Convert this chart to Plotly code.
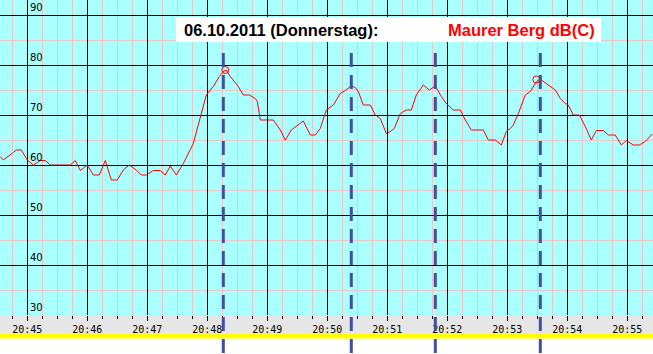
import plotly.graph_objects as go

DATE = "2011-10-06 "

times = ["20:44:33", "20:44:36", "20:44:46", "20:44:49", "20:44:54", "20:45:00", "20:45:06",
         "20:45:13", "20:45:18", "20:45:23", "20:45:43", "20:45:48", "20:45:53", "20:45:58",
         "20:46:00", "20:46:06", "20:46:12", "20:46:18", "20:46:24", "20:46:30", "20:46:36",
         "20:46:42", "20:46:49", "20:46:54", "20:46:59", "20:47:06", "20:47:13", "20:47:18",
         "20:47:23", "20:47:29", "20:47:36", "20:47:46", "20:47:53", "20:47:59", "20:48:06",
         "20:48:12", "20:48:16", "20:48:19", "20:48:23", "20:48:28", "20:48:31", "20:48:36",
         "20:48:42", "20:48:48", "20:48:50", "20:48:53", "20:49:06", "20:49:13", "20:49:18",
         "20:49:24", "20:49:29", "20:49:36", "20:49:43", "20:49:48", "20:49:53", "20:49:59",
         "20:50:06", "20:50:13", "20:50:18", "20:50:24", "20:50:28", "20:50:31", "20:50:36",
         "20:50:43", "20:50:48", "20:50:53", "20:50:59", "20:51:03", "20:51:07", "20:51:13",
         "20:51:19", "20:51:24", "20:51:29", "20:51:36", "20:51:42", "20:51:48", "20:51:54",
         "20:51:59", "20:52:06", "20:52:13", "20:52:18", "20:52:24", "20:52:36", "20:52:41",
         "20:52:48", "20:52:54", "20:52:59", "20:53:03", "20:53:06", "20:53:11", "20:53:18",
         "20:53:23", "20:53:28", "20:53:31", "20:53:34", "20:53:39", "20:53:48", "20:53:53",
         "20:53:58", "20:54:01", "20:54:06", "20:54:12", "20:54:18", "20:54:24", "20:54:29",
         "20:54:36", "20:54:41", "20:54:48", "20:54:54", "20:54:59", "20:55:06", "20:55:12",
         "20:55:18", "20:55:25"]

levels = [61.7, 61.0, 62.5, 63.0, 63.0, 61.0, 60.0,
          60.9, 60.9, 60.0, 60.0, 60.9, 58.9, 59.8,
          60.0, 58.0, 58.0, 60.9, 57.0, 57.0, 59.0,
          60.0, 59.0, 58.0, 58.0, 58.9, 58.9, 58.0,
          59.8, 58.0, 60.3, 64.3, 69.7, 74.0, 75.7,
          77.7, 78.7, 79.0, 77.7, 76.3, 75.7, 74.0,
          74.0, 73.3, 72.7, 69.0, 69.0, 67.0, 65.0,
          67.0, 67.7, 68.8, 66.0, 66.0, 67.3, 71.0,
          72.0, 74.3, 74.9, 75.8, 75.5, 74.7, 72.0,
          72.0, 70.0, 69.3, 66.3, 66.7, 67.3, 70.3,
          71.0, 71.0, 74.0, 76.0, 75.0, 75.8, 73.7,
          72.3, 71.0, 71.0, 69.0, 67.0, 67.0, 65.0,
          65.0, 64.0, 66.7, 67.3, 68.0, 70.3, 74.0,
          74.7, 76.3, 77.0, 77.0, 76.3, 75.0, 73.3,
          72.3, 72.0, 70.0, 70.0, 67.7, 65.0, 66.9,
          66.9, 66.0, 66.0, 64.0, 64.9, 64.0, 64.0,
          64.7, 66.2]

peak_times = ["20:48:18", "20:53:29"]
peak_levels = [79.0, 77.1]

event_times = ["20:48:16", "20:50:24", "20:51:48", "20:53:33"]

y_tick_values = [90, 80, 70, 60, 50, 40, 30]

title_date = "06.10.2011 (Donnerstag):"
title_site = "Maurer Berg dB(C)"

X_RANGE = [DATE + "20:44:32.7", DATE + "20:55:25.7"]
Y_RANGE = [30, 93]

PLOT_H = 315.0

fig = go.Figure()
fig.add_trace(go.Scatter(
    x=[DATE + t for t in times], y=levels, mode="lines",
    line=dict(color="#FF0000", width=1), hoverinfo="skip", showlegend=False))
fig.add_trace(go.Scatter(
    x=[DATE + t for t in peak_times], y=peak_levels, mode="markers",
    marker=dict(symbol="circle-open", size=7, color="#FF0000", line=dict(width=1)),
    hoverinfo="skip", showlegend=False))

shapes = []
# grey time band and yellow line below the plot
shapes.append(dict(type="rect", xref="paper", yref="paper", x0=0, x1=1,
                   y0=-19 / PLOT_H, y1=0, fillcolor="#E6E6E6", line=dict(width=0), layer="below"))
shapes.append(dict(type="rect", xref="paper", yref="paper", x0=0, x1=1,
                   y0=-23.5 / PLOT_H, y1=-19 / PLOT_H, fillcolor="#FFFF00", line=dict(width=0), layer="below"))
# title box
shapes.append(dict(type="rect", xref="paper", yref="paper", x0=176 / 653, x1=601 / 653,
                   y0=1 - 42 / PLOT_H, y1=1 - 17 / PLOT_H, fillcolor="#FFFFFF",
                   line=dict(width=0), layer="above"))
# event dashed lines
for t in event_times:
    shapes.append(dict(type="line", xref="x", yref="paper", x0=DATE + t, x1=DATE + t,
                       y0=1 - 53 / PLOT_H, y1=1 - 354 / PLOT_H,
                       line=dict(color="#40509E", width=3, dash="14px,8px"), layer="above"))

annotations = []
for v in y_tick_values:
    annotations.append(dict(x=DATE + "20:45:01", y=v, xref="x", yref="y", text=str(v),
                            showarrow=False, xanchor="left", yanchor="bottom", yshift=0,
                            font=dict(family="DejaVu Sans", size=10, color="#000000")))
annotations.append(dict(x=182 / 653, y=1 - 30 / PLOT_H, xref="paper", yref="paper",
                        text="<b>" + title_date + "</b>", showarrow=False,
                        xanchor="left", yanchor="middle",
                        font=dict(family="Liberation Sans, Arial", size=16.5, color="#000000")))
annotations.append(dict(x=446 / 653, y=1 - 30 / PLOT_H, xref="paper", yref="paper",
                        text="<b>" + title_site + "</b>", showarrow=False,
                        xanchor="left", yanchor="middle",
                        font=dict(family="Liberation Sans, Arial", size=16.5, color="#FF0000")))

fig.update_layout(
    width=653, height=354, autosize=False,
    margin=dict(l=0, r=0, t=0, b=39, pad=0),
    paper_bgcolor="#FFFFFF", plot_bgcolor="#AAFFFF",
    shapes=shapes, annotations=annotations,
    xaxis=dict(type="date", range=X_RANGE, dtick=60000, tick0=DATE + "20:45:00",
               tickformat="%H:%M", showgrid=True, gridcolor="#000000", gridwidth=1,
               ticks="outside", ticklen=5, tickcolor="#000000", tickwidth=1,
               tickfont=dict(family="DejaVu Sans Mono", size=10, color="#000000"),
               minor=dict(dtick=15000, tick0=DATE + "20:45:00", showgrid=True,
                          gridcolor="#E6C8C8", gridwidth=1, ticks="outside", ticklen=3,
                          tickcolor="#000000"),
               zeroline=False, showline=False, fixedrange=True),
    yaxis=dict(range=Y_RANGE, dtick=10, tick0=0, showgrid=True, gridcolor="#000000",
               gridwidth=1, showticklabels=False, ticks="",
               minor=dict(dtick=5, tick0=0, showgrid=True, gridcolor="#E6C8C8", gridwidth=1),
               zeroline=False, showline=False, fixedrange=True),
    showlegend=False,
)

fig.write_html("out.html", config={"displayModeBar": False})
